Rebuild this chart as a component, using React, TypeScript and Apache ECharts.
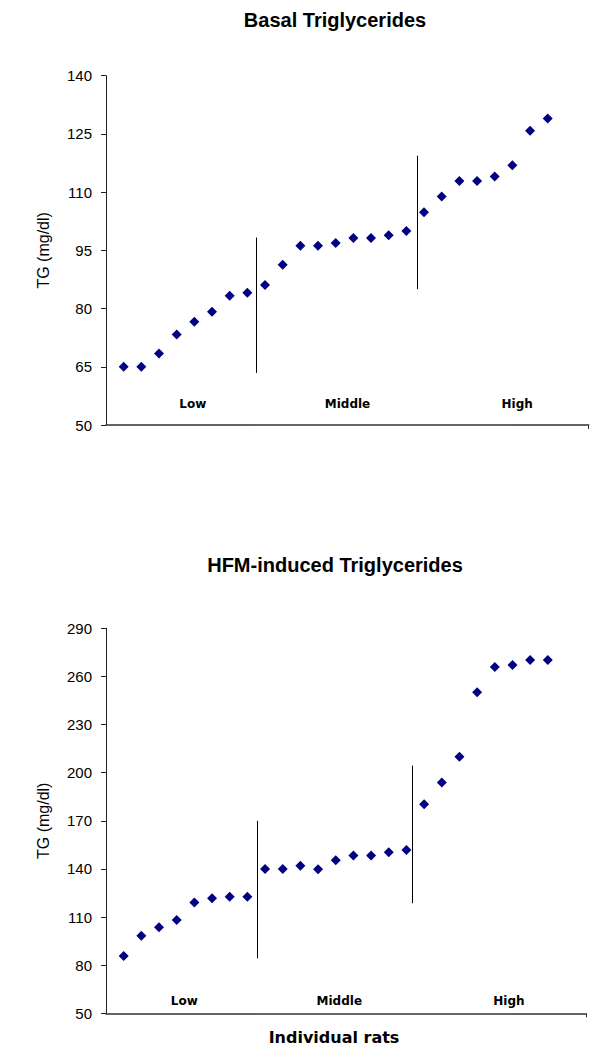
import React, { useEffect, useRef } from "react";
import * as echarts from "echarts";

// ---- data ----
const ratIndex = [1, 2, 3, 4, 5, 6, 7, 8, 9, 10, 11, 12, 13, 14, 15, 16, 17, 18, 19, 20, 21, 22, 23, 24, 25];
const basalTG = [65, 65, 68.4, 73.3, 76.6, 79.2, 83.3, 84.1, 86.1, 91.3, 96.2, 96.2, 96.9, 98.2, 98.2, 98.9, 100.0, 104.8, 108.9, 112.9, 112.9, 114.0, 116.9, 125.8, 129.0];
const hfmTG = [85.7, 98.4, 103.6, 108.2, 119.0, 121.7, 122.7, 122.7, 140.0, 140.0, 142.0, 139.8, 145.4, 148.3, 148.3, 150.4, 151.8, 180.3, 193.8, 210.0, 250.1, 265.9, 267.1, 270.3, 270.3];
const basalTicks = [50, 65, 80, 95, 110, 125, 140];
const hfmTicks = [50, 80, 110, 140, 170, 200, 230, 260, 290];
const groupNames = ["Low", "Middle", "High"];
const titles = ["Basal Triglycerides", "HFM-induced Triglycerides"];
const yName = "TG (mg/dl)";
const xName = "Individual rats";

const NAVY = "#000080";
const FONT = "'Liberation Sans', Arial, sans-serif";
const LABEL_FONT = "'DejaVu Sans', Verdana, sans-serif";

function buildOption() {
  const pts = (vals: number[]) => vals.map((v, i) => [ratIndex[i], v]);

  const yAxisBase = (gridIndex: number, min: number, max: number, ticks: number[]) => ({
    type: "value",
    gridIndex,
    min,
    max,
    name: yName,
    nameLocation: "middle",
    nameRotate: 90,
    nameGap: 55,
    nameTextStyle: { fontFamily: FONT, fontSize: 16, color: "#000" },
    axisLine: { show: true, lineStyle: { color: "#222", width: 1 } },
    axisTick: { show: true, length: 5, inside: false, customValues: ticks, lineStyle: { color: "#222" } },
    axisLabel: { show: true, customValues: ticks, margin: 14, fontFamily: FONT, fontSize: 15, color: "#000" },
    splitLine: { show: false },
  });

  const xAxisBase = (gridIndex: number, max: number) => ({
    type: "value",
    gridIndex,
    min: 0,
    max,
    axisLine: { show: true, onZero: false, lineStyle: { color: "#333", width: 1.5 } },
    axisTick: { show: true, length: 4, customValues: [max], lineStyle: { color: "#333" } },
    axisLabel: { show: false },
    splitLine: { show: false },
  });

  const sepLine = (x: number, y0: number, y1: number) => [{ coord: [x, y0] }, { coord: [x, y1] }];

  const labelSeries = (xi: number, pos: number[][]) => ({
    type: "scatter",
    xAxisIndex: xi,
    yAxisIndex: xi,
    symbolSize: 1,
    silent: true,
    itemStyle: { color: "rgba(0,0,0,0)", opacity: 1 },
    data: pos.map((p, i) => [p[0], p[1], groupNames[i]]),
    label: {
      show: true,
      position: "inside",
      formatter: (p: any) => p.data[2],
      fontFamily: LABEL_FONT,
      fontWeight: "bold",
      fontSize: 12,
      color: "#000",
    },
  });

  const pointSeries = (xi: number, vals: number[], lines: any[]) => ({
    type: "scatter",
    xAxisIndex: xi,
    yAxisIndex: xi,
    symbol: "diamond",
    symbolSize: 10,
    itemStyle: { color: NAVY, opacity: 1 },
    data: pts(vals),
    markLine: {
      silent: true,
      symbol: "none",
      label: { show: false },
      lineStyle: { color: "#000", width: 1, type: "solid" },
      data: lines,
    },
  });

  return {
    animation: false,
    backgroundColor: "#fff",
    grid: [
      { left: 106, top: 75.7, width: 482.7, height: 349.3 },
      { left: 106, top: 628.3, width: 480, height: 385 },
    ],
    xAxis: [xAxisBase(0, 27.32), xAxisBase(1, 27.16)],
    yAxis: [yAxisBase(0, 50, 140, basalTicks), yAxisBase(1, 50, 290, hfmTicks)],
    graphic: [
      {
        type: "text",
        x: 335,
        y: 20,
        style: { text: titles[0], textAlign: "center", textVerticalAlign: "middle", font: `bold 20px ${FONT}`, fill: "#000" },
      },
      {
        type: "text",
        x: 335,
        y: 565,
        style: { text: titles[1], textAlign: "center", textVerticalAlign: "middle", font: `bold 20px ${FONT}`, fill: "#000" },
      },
      {
        type: "text",
        x: 334,
        y: 1037,
        style: { text: xName, textAlign: "center", textVerticalAlign: "middle", font: `bold 16px ${LABEL_FONT}`, fill: "#000" },
      },
    ],
    series: [
      pointSeries(0, basalTG, [sepLine(8.53, 63.4, 98.3), sepLine(17.62, 85.0, 119.4)]),
      pointSeries(1, hfmTG, [sepLine(8.53, 84.3, 170.0), sepLine(17.33, 118.6, 204.4)]),
      labelSeries(0, [[4.91, 55.3], [13.67, 55.3], [23.27, 55.3]]),
      labelSeries(1, [[4.43, 57.4], [13.2, 57.4], [22.8, 57.4]]),
    ],
  };
}

export default function App() {
  const ref = useRef<HTMLDivElement>(null);
  useEffect(() => {
    if (!ref.current) return;
    const chart = echarts.init(ref.current, undefined, { renderer: "svg" });
    chart.setOption(buildOption() as any);
    return () => chart.dispose();
  }, []);
  return <div ref={ref} style={{ position: "absolute", left: 0, top: 0, width: 604, height: 1050, background: "#fff" }} />;
}
